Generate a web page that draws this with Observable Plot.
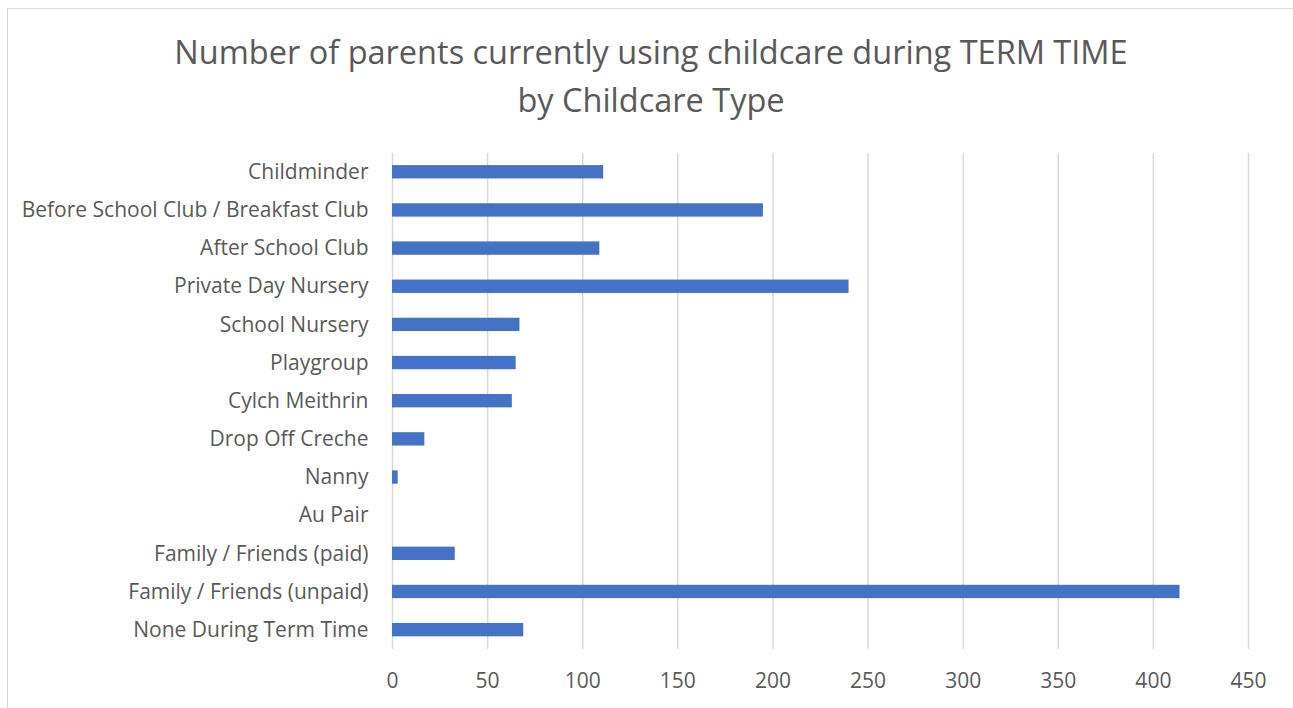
<!DOCTYPE html>
<html>
<head>
<meta charset="utf-8">
<script src="https://cdn.jsdelivr.net/npm/d3@7"></script>
<script src="https://cdn.jsdelivr.net/npm/@observablehq/plot@0.6"></script>
<style>
  html, body { margin: 0; padding: 0; background: #fff; overflow: hidden; width: 1293px; height: 708px; }
  #frame { position: absolute; left: 7px; top: 8px; width: 1300px; height: 720px; border: 1px solid #d9d9d9; }
  #title { position: absolute; left: 0; top: 28px; width: 1302px; text-align: center;
           font-family: "Open Sans", sans-serif; font-size: 32.5px; line-height: 48px; color: #595959; }
  #chart { position: absolute; left: 0; top: 130px; }
  #chart svg text { font-family: "Open Sans", sans-serif; }
</style>
</head>
<body>
<div id="frame"></div>
<div id="title">Number of parents currently using childcare during TERM TIME<br>by Childcare Type</div>
<div id="chart"></div>
<script>
const categories = [
  "Childminder",
  "Before School Club / Breakfast Club",
  "After School Club",
  "Private Day Nursery",
  "School Nursery",
  "Playgroup",
  "Cylch Meithrin",
  "Drop Off Creche",
  "Nanny",
  "Au Pair",
  "Family / Friends (paid)",
  "Family / Friends (unpaid)",
  "None During Term Time"
];
const values = [111, 195, 109, 240, 67, 65, 63, 17, 3, 0, 33, 414, 69];
const xTicks = [0, 50, 100, 150, 200, 250, 300, 350, 400, 450];

const data = categories.map((c, i) => ({category: c, value: values[i]}));

const chart = Plot.plot({
  width: 1293,
  height: 578,
  marginLeft: 392,
  marginRight: 45,
  marginTop: 22.7,
  marginBottom: 59.3,
  style: { fontSize: "21px", color: "#595959", background: "transparent" },
  x: { domain: [0, 450], ticks: xTicks, label: null },
  y: { domain: categories, label: null, paddingInner: 0.65, paddingOuter: 0.325, round: false },
  marks: [
    Plot.ruleX(xTicks, { stroke: "#d9d9d9", strokeWidth: 1.5 }),
    Plot.barX(data, { x: "value", y: "category", fill: "#4472C4" }),
    Plot.axisX({ ticks: xTicks, tickSize: 0, tickPadding: 24, fontSize: 21, fill: "#595959", label: null }),
    Plot.axisY({ tickSize: 0, tickPadding: 24, fontSize: 21, fill: "#595959", label: null })
  ]
});
document.getElementById("chart").appendChild(chart);
</script>
</body>
</html>
